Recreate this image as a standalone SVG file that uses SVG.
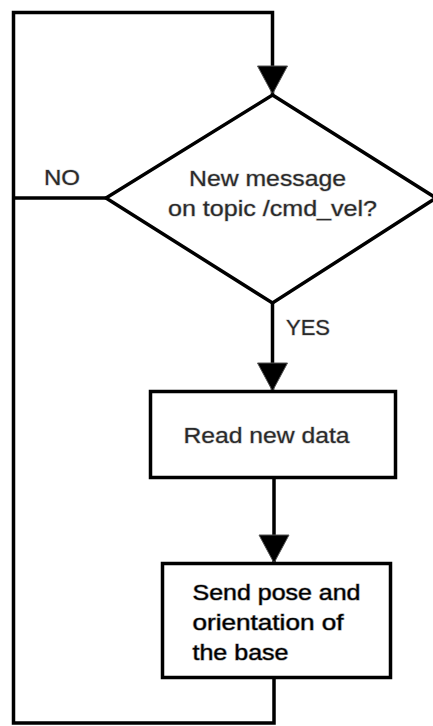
<svg xmlns="http://www.w3.org/2000/svg" width="433" height="726" viewBox="0 0 433 726">
  <style>
    .line { fill: none; stroke: #000; stroke-width: 3.5; }
    .shape { fill: #fff; stroke: #000; stroke-width: 3.5; stroke-linejoin: miter; }
    .label { font-family: "Liberation Sans", Arial, Helvetica, sans-serif; font-size: 22px; fill: #2a2a2a;
             stroke: #c8c8c8; stroke-width: 1.2px; paint-order: stroke; stroke-linejoin: round; }
    .bold { fill: #000; stroke: #a0a0a0; }
  </style>
  <defs>
    <!-- solid triangular arrowhead, drawn pointing along +x -->
    <marker id="arrow" viewBox="0 0 30 32" refX="29" refY="16" markerWidth="30" markerHeight="32" markerUnits="userSpaceOnUse" orient="auto">
      <path d="M1,1 L29,16 L1,31 Z" fill="#000" stroke="#555" stroke-width="1"/>
    </marker>
  </defs>
  <rect width="433" height="726" fill="#fff"/>

  <!-- connectors -->
  <g id="connectors">
    <!-- loop back: from bottom of the send box, round the left side, into the decision -->
    <polyline class="line" points="274,678 274,723 13.5,723 13.5,12.5 272.5,12.5 272.5,94" marker-end="url(#arrow)"/>
    <!-- NO branch joins the loop -->
    <line class="line" x1="13.5" y1="198" x2="106" y2="198"/>
    <!-- YES branch -->
    <line class="line" x1="272.5" y1="303" x2="272.5" y2="391" marker-end="url(#arrow)"/>
    <!-- read -> send -->
    <line class="line" x1="274" y1="478" x2="274" y2="563" marker-end="url(#arrow)"/>
    <text class="label" x="44" y="185" textLength="36" lengthAdjust="spacingAndGlyphs">NO</text>
    <text class="label" x="286" y="335" textLength="44" lengthAdjust="spacingAndGlyphs">YES</text>
  </g>

  <!-- decision node -->
  <g id="decision">
    <polygon class="shape" points="272.5,95 436,198 272.5,303 106,198"/>
    <text class="label" x="189" y="186" textLength="157" lengthAdjust="spacingAndGlyphs">New message</text>
    <text class="label" x="168" y="216" textLength="209" lengthAdjust="spacingAndGlyphs">on topic /cmd_vel?</text>
  </g>

  <!-- read node -->
  <g id="read-data">
    <rect class="shape" x="150.5" y="391.5" width="245" height="86"/>
    <text class="label" x="183.5" y="443" textLength="166" lengthAdjust="spacingAndGlyphs">Read new data</text>
  </g>

  <!-- send node -->
  <g id="send-pose">
    <rect class="shape" x="162.5" y="563.5" width="228" height="114"/>
    <text class="label bold" x="192.5" y="600" textLength="168" lengthAdjust="spacingAndGlyphs">Send pose and</text>
    <text class="label bold" x="192.5" y="630" textLength="151" lengthAdjust="spacingAndGlyphs">orientation of</text>
    <text class="label bold" x="192.5" y="660" textLength="96" lengthAdjust="spacingAndGlyphs">the base</text>
  </g>
</svg>
